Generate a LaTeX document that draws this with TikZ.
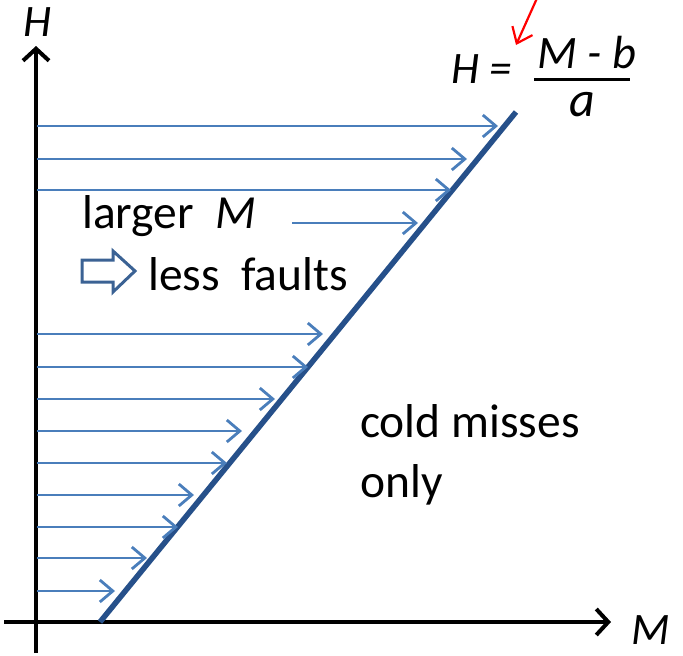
\documentclass[tikz,border=0pt]{standalone}
\usepackage{fontspec}
\setmainfont{Carlito}
\usetikzlibrary{positioning,calc,arrows.meta}
\definecolor{hblue}{RGB}{74,126,187}
\definecolor{lblue}{RGB}{38,80,138}
\definecolor{ablue}{RGB}{59,98,148}
\tikzset{
  axis/.style   = {line width=4pt, -{Straight Barb[length=12pt,width=26pt,line width=4pt]}},
  harrow/.style = {draw=hblue, line width=2.8pt,
                   -{Straight Barb[length=13pt,width=22pt,line width=2.8pt]}},
  bound/.style  = {draw=lblue, line width=5.5pt},
  redarr/.style = {draw=red, line width=2.2pt,
                   -{Straight Barb[length=14pt,width=22pt,line width=2.2pt]}},
  txt/.style    = {font=\fontsize{47.5}{60}\selectfont, inner sep=0pt, anchor=base west},
  albl/.style   = {font=\fontsize{45}{50}\selectfont\itshape, inner sep=0pt},
}

\begin{document}
\begin{tikzpicture}[x=1pt,y=-1pt]
  \useasboundingbox (0,0) rectangle (683,656);
  % axes
  \coordinate (ybot) at (36,653);
  \coordinate (ytop) at (36,46);
  \coordinate (xlft) at (4,622);
  \coordinate (xrgt) at (611,622);
  \draw[axis] (ybot)--(ytop);
  \draw[axis] (xlft)--(xrgt);
  \node[albl] (hlab) at (38,22) {H};
  \node[albl] (mlab) at (651,630) {M};
  % boundary H = (M-b)/a
  \coordinate (bstart) at (100,622);
  \coordinate (bend) at (516,112);
  \draw[bound] (bstart)--(bend);
  % arrows up to the boundary
  \foreach \y/\xs/\xe in {126/37/498,159/37/467,190/37/451,223/292/418,
      334/37/323,367/37/308,399/37/275,431/37/242,463/37/227,
      495/37/194,527/37/178,558/37/147,591/37/115}{
    \coordinate (s\y) at (\xs,\y);
    \coordinate (e\y) at (\xe,\y);
    \draw[harrow] (s\y)--(e\y);
  }
  % formula
  \node[txt, font=\fontsize{45}{50}\selectfont\itshape] (heq) at (451,83) {H =};
  \node[txt, font=\fontsize{46.5}{50}\selectfont\itshape] (num) at (537,68) {M - b};
  \coordinate (barl) at (534,79);
  \coordinate (barr) at (630,79);
  \draw[line width=3pt] (barl)--(barr);
  \node[txt, font=\fontsize{50}{60}\selectfont\itshape] (den) at (569,116) {a};
  \coordinate (rtail) at (538,-4);
  \coordinate (rtip) at (516,45);
  \draw[redarr] (rtail)--(rtip);
  % texts
  \node[txt] (larger) at (82,228) {larger\ \ \textit{M}};
  \draw[draw=ablue, fill=white, line width=3pt, line join=miter]
    (82,260)--(113,260)--(113,251)--(135,271)--(113,292)--(113,282)--(82,282)--cycle;
  \node[txt] (fewer) at (148,290) {less\ \ faults};
  \node[txt] (cold) at (360,437) {cold misses};
  \node[txt] (only) at (360,497) {only};
\end{tikzpicture}
\end{document}
